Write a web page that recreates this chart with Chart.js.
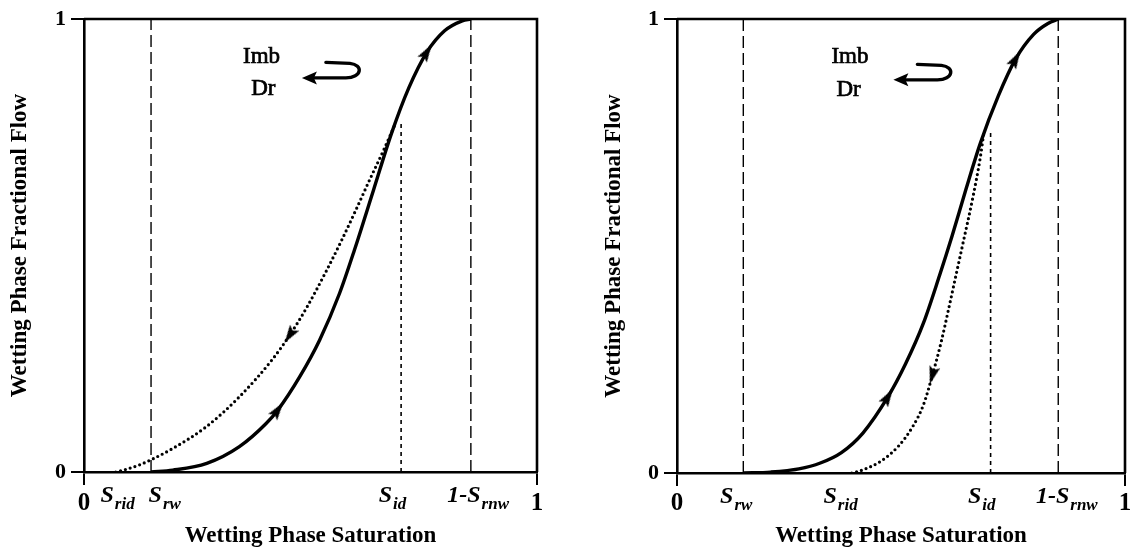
<!DOCTYPE html>
<html><head><meta charset="utf-8">
<script src="https://cdn.jsdelivr.net/npm/chart.js@4/dist/chart.umd.min.js"></script>
<style>
html,body{margin:0;padding:0;background:#fff;}
#wrap{position:relative;width:1137px;height:553px;overflow:hidden;background:#fff;}
.c{position:absolute;top:0;height:553px;}
</style></head><body>
<div id="wrap">
<div class="c" style="left:0;width:570px"><canvas id="left"></canvas></div>
<div class="c" style="left:570px;width:567px"><canvas id="right"></canvas></div>
</div>
<script>
// ---------- data ----------
const yTickValues = [0, 1];
const xTitle = 'Wetting Phase Saturation';
const yTitle = 'Wetting Phase Fractional Flow';

// left panel
const leftSolidSat  = [0.148, 0.196, 0.271, 0.343, 0.402, 0.428, 0.476, 0.520, 0.564, 0.597, 0.639, 0.679, 0.717, 0.757, 0.796, 0.835, 0.854];
const leftSolidFlow = [0, 0.004, 0.019, 0.056, 0.107, 0.137, 0.210, 0.291, 0.394, 0.490, 0.622, 0.748, 0.848, 0.927, 0.974, 0.996, 1.0];
const leftDottedSat  = [0.070, 0.090, 0.123, 0.148, 0.196, 0.270, 0.343, 0.417, 0.454, 0.491, 0.535, 0.568, 0.600, 0.631, 0.663, 0.686];
const leftDottedFlow = [0, 0.005, 0.016, 0.027, 0.052, 0.100, 0.166, 0.250, 0.302, 0.362, 0.444, 0.510, 0.578, 0.646, 0.714, 0.766];
const leftSolidArrowSat  = [0.428, 0.757];
const leftDottedArrowSat = [0.454];
const leftLineSat = [0.148, 0.700, 0.854];
const leftLineTop = [1, 0.777, 1];
const leftTickSat  = [0, 0.073, 0.177, 0.680, 0.869, 1];
const leftTickMain = ['0', 'S', 'S', 'S', '1-S', '1'];
const leftTickSub  = ['', 'rid', 'rw', 'id', 'rnw', ''];

// right panel
const rightSolidSat  = [0.148, 0.209, 0.272, 0.320, 0.367, 0.415, 0.471, 0.510, 0.550, 0.586, 0.614, 0.645, 0.677, 0.717, 0.756, 0.796, 0.828, 0.852];
const rightSolidFlow = [0, 0.002, 0.009, 0.022, 0.045, 0.088, 0.168, 0.240, 0.330, 0.435, 0.522, 0.625, 0.726, 0.830, 0.912, 0.966, 0.990, 1.0];
const rightDottedSat  = [0.390, 0.399, 0.415, 0.455, 0.495, 0.526, 0.550, 0.570, 0.590, 0.606, 0.621, 0.637, 0.661, 0.677, 0.685];
const rightDottedFlow = [0, 0.002, 0.007, 0.026, 0.060, 0.102, 0.150, 0.215, 0.290, 0.360, 0.428, 0.500, 0.610, 0.695, 0.750];
const rightSolidArrowSat  = [0.471, 0.756];
const rightDottedArrowSat = [0.570];
const rightLineSat = [0.148, 0.700, 0.851];
const rightLineTop = [1, 0.755, 1];
const rightTickSat  = [0, 0.131, 0.364, 0.679, 0.869, 1];
const rightTickMain = ['0', 'S', 'S', 'S', '1-S', '1'];
const rightTickSub  = ['', 'rw', 'rid', 'id', 'rnw', ''];

// annotation text
const noteText = ['Imb', 'Dr'];

// ---------- helpers ----------
const SERIF = '"Liberation Serif", "Times New Roman", serif';
const zip = (xs, ys) => xs.map((x, i) => ({x, y: ys[i]}));

const arrowImg = document.createElement('canvas');
arrowImg.width = 11; arrowImg.height = 18;
(() => {
  const g = arrowImg.getContext('2d');
  g.fillStyle = '#000';
  g.beginPath();
  g.moveTo(5.5, 0); g.lineTo(11, 18); g.lineTo(5.5, 14.5); g.lineTo(0, 18); g.closePath();
  g.fill();
})();

function arrowOptions(arrowSats, forward) {
  return {
    pointRadius: ctx => (ctx.raw && arrowSats.includes(ctx.raw.x)) ? 6 : 0,
    pointStyle: arrowImg,
    pointRotation: ctx => {
      const d = ctx.dataset.data, i = ctx.dataIndex;
      const a = d[Math.max(0, i - 1)], b = d[Math.min(d.length - 1, i + 1)];
      const sx = ctx.chart.scales.x, sy = ctx.chart.scales.y;
      let dx = sx.getPixelForValue(b.x) - sx.getPixelForValue(a.x);
      let dy = sy.getPixelForValue(b.y) - sy.getPixelForValue(a.y);
      if (!forward) { dx = -dx; dy = -dy; }
      return Math.atan2(dy, dx) * 180 / Math.PI + 90;
    }
  };
}

function vline(sat, top, dash, width) {
  return {
    data: [{x: sat, y: 0}, {x: sat, y: top}],
    borderColor: '#000', borderWidth: width, borderDash: dash,
    pointRadius: 0, tension: 0, fill: false
  };
}

function makeChart(id, cfg) {
  const labelPlugin = {
    id: 'extras_' + id,
    afterDraw(chart) {
      const {ctx, chartArea: ca, scales: {x, y}} = chart;
      ctx.save();
      // frame: top and right
      ctx.strokeStyle = '#000';
      ctx.lineWidth = 2.6;
      ctx.beginPath();
      ctx.moveTo(ca.left, ca.top);
      ctx.lineTo(ca.right, ca.top);
      ctx.lineTo(ca.right, ca.bottom);
      ctx.stroke();

      // x tick labels with subscripts
      ctx.fillStyle = '#000';
      ctx.textBaseline = 'alphabetic';
      ctx.textAlign = 'left';
      const MAIN = 'italic bold 24px ' + SERIF, SUB = 'italic bold 17px ' + SERIF;
      cfg.tickSat.forEach((v, i) => {
        const px = x.getPixelForValue(v);
        const main = cfg.tickMain[i], sub = cfg.tickSub[i];
        if (!sub) {
          ctx.font = 'bold 25px ' + SERIF;
          const w = ctx.measureText(main).width;
          ctx.fillText(main, px - w / 2, cfg.digitBase);
        } else {
          ctx.font = MAIN;
          const w1 = ctx.measureText(main).width;
          ctx.font = SUB;
          const w2 = ctx.measureText(sub).width;
          const x0 = px - (w1 + w2) / 2;
          ctx.font = MAIN;
          ctx.fillText(main, x0, cfg.mainBase);
          ctx.font = SUB;
          ctx.fillText(sub, x0 + w1 + 1, cfg.subBase);
        }
      });

      // Imb / Dr notes
      ctx.font = '23px ' + SERIF;
      ctx.textAlign = 'center';
      ctx.lineWidth = 0.7;
      cfg.notes.forEach((n, i) => {
        const px = x.getPixelForValue(n[0]), py = y.getPixelForValue(n[1]);
        ctx.fillText(noteText[i], px, py);
        ctx.strokeText(noteText[i], px, py);
      });

      // hook arrow
      const tx = x.getPixelForValue(cfg.hook[0]), ty = y.getPixelForValue(cfg.hook[1]);
      ctx.translate(tx, ty);
      ctx.beginPath();
      ctx.moveTo(0, 0); ctx.lineTo(15, -6.5); ctx.lineTo(12, 0); ctx.lineTo(15, 6.5); ctx.closePath();
      ctx.fill();
      ctx.lineWidth = 3.4;
      ctx.lineCap = 'round';
      ctx.beginPath();
      ctx.moveTo(12, 0);
      ctx.lineTo(44, 0);
      ctx.bezierCurveTo(60, 0, 62, -13, 48, -14.5);
      ctx.lineTo(24, -15.5);
      ctx.stroke();
      ctx.restore();
    }
  };

  const datasets = [
    vline(cfg.lineSat[0], cfg.lineTop[0], [12, 5], 1.4),
    vline(cfg.lineSat[1], cfg.lineTop[1], [4, 4], 1.6),
    vline(cfg.lineSat[2], cfg.lineTop[2], [12, 5], 1.4),
    Object.assign({
      data: zip(cfg.dotSat, cfg.dotFlow),
      borderColor: '#000', borderWidth: 3.2, borderDash: [0, 5], borderCapStyle: 'round',
      cubicInterpolationMode: 'monotone', fill: false
    }, arrowOptions(cfg.dotArrow, false)),
    Object.assign({
      data: zip(cfg.solSat, cfg.solFlow),
      borderColor: '#000', borderWidth: 3.4,
      cubicInterpolationMode: 'monotone', fill: false
    }, arrowOptions(cfg.solArrow, true))
  ];

  return new Chart(document.getElementById(id), {
    type: 'line',
    data: {datasets},
    plugins: [labelPlugin],
    options: {
      responsive: true,
      maintainAspectRatio: false,
      animation: false,
      events: [],
      layout: {padding: {left: 0, top: 19, right: cfg.padRight, bottom: 0}},
      plugins: {legend: {display: false}, tooltip: {enabled: false}},
      scales: {
        x: {
          type: 'linear', min: 0, max: 1,
          afterBuildTicks: s => { s.ticks = [{value: 0}, {value: 1}]; },
          afterFit: s => { s.height = cfg.xHeight; },
          ticks: {display: false},
          grid: {drawOnChartArea: false, drawTicks: true, tickLength: 13, color: '#000', lineWidth: 2},
          border: {display: true, color: '#000', width: 2.6},
          title: {display: true, text: xTitle, color: '#000',
                  font: {family: SERIF, weight: 'bold', size: 23}, padding: {top: 0, bottom: 3}}
        },
        y: {
          type: 'linear', min: 0, max: 1,
          afterBuildTicks: s => { s.ticks = yTickValues.map(v => ({value: v})); },
          afterFit: s => { s.width = cfg.yWidth; },
          ticks: {color: '#000', padding: 5, font: {family: SERIF, weight: 'bold', size: 22}},
          grid: {drawOnChartArea: false, drawTicks: true, tickLength: 13, color: '#000', lineWidth: 2},
          border: {display: true, color: '#000', width: 2.6},
          title: {display: true, text: yTitle, color: '#000',
                  font: {family: SERIF, weight: 'bold', size: 23}, padding: {top: cfg.yTitlePad, bottom: 0}}
        }
      }
    }
  });
}

makeChart('left', {
  solSat: leftSolidSat, solFlow: leftSolidFlow, solArrow: leftSolidArrowSat,
  dotSat: leftDottedSat, dotFlow: leftDottedFlow, dotArrow: leftDottedArrowSat,
  lineSat: leftLineSat, lineTop: leftLineTop,
  tickSat: leftTickSat, tickMain: leftTickMain, tickSub: leftTickSub,
  notes: [[0.392, 0.903], [0.396, 0.832]], hook: [0.481, 0.870],
  padRight: 33, yWidth: 84, xHeight: 81, yTitlePad: 6,
  mainBase: 502, subBase: 509, digitBase: 510
});
makeChart('right', {
  solSat: rightSolidSat, solFlow: rightSolidFlow, solArrow: rightSolidArrowSat,
  dotSat: rightDottedSat, dotFlow: rightDottedFlow, dotArrow: rightDottedArrowSat,
  lineSat: rightLineSat, lineTop: rightLineTop,
  tickSat: rightTickSat, tickMain: rightTickMain, tickSub: rightTickSub,
  notes: [[0.386, 0.903], [0.383, 0.830]], hook: [0.483, 0.866],
  padRight: 12, yWidth: 107, xHeight: 80, yTitlePad: 30,
  mainBase: 503, subBase: 510, digitBase: 510
});
</script>
</body></html>
